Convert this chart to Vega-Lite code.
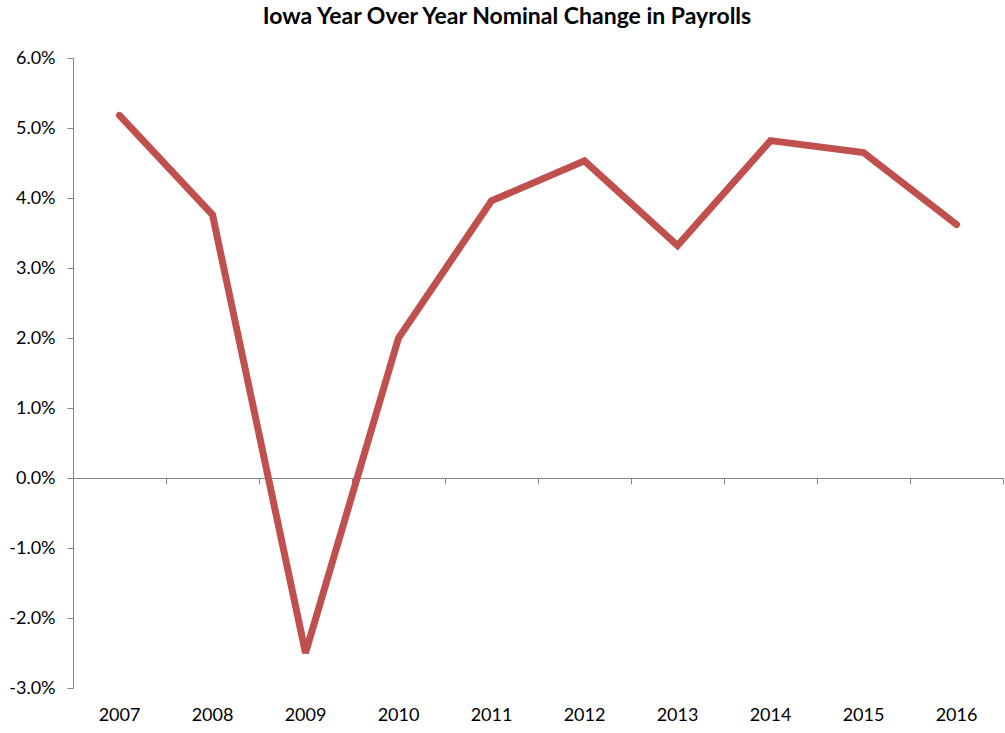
{
  "$schema": "https://vega.github.io/schema/vega-lite/v6.json",
  "autosize": "none",
  "width": 930,
  "height": 630,
  "padding": {"left": 73, "top": 58, "right": 2, "bottom": 45},
  "background": "white",
  "title": {
    "text": "Iowa Year Over Year Nominal Change in Payrolls",
    "font": "Lato",
    "fontSize": 23,
    "fontWeight": "bold",
    "color": "#000000",
    "anchor": "middle",
    "dx": -31,
    "offset": 20
  },
  "config": {
    "view": {"stroke": null},
    "axis": {"grid": false, "labelFont": "Lato", "labelFontSize": 18, "labelColor": "#000000", "domainColor": "#868686", "tickColor": "#868686", "title": null}
  },
  "data": {
    "values": [
      {"year": "2007", "change": 0.0518},
      {"year": "2008", "change": 0.0376},
      {"year": "2009", "change": -0.0250},
      {"year": "2010", "change": 0.0200},
      {"year": "2011", "change": 0.0396},
      {"year": "2012", "change": 0.0453},
      {"year": "2013", "change": 0.0332},
      {"year": "2014", "change": 0.0482},
      {"year": "2015", "change": 0.0465},
      {"year": "2016", "change": 0.0362}
    ]
  },
  "layer": [
    {
      "mark": {"type": "line", "color": "#C0504D", "strokeWidth": 7, "strokeCap": "round", "strokeJoin": "miter"},
      "encoding": {
        "x": {
          "field": "year", "type": "ordinal",
          "scale": {"type": "band", "paddingInner": 0, "paddingOuter": 0},
          "axis": {"orient": "bottom", "offset": -210, "labels": false, "ticks": true, "tickBand": "extent", "tickSize": 6, "domain": true}
        },
        "y": {
          "field": "change", "type": "quantitative",
          "scale": {"domain": [-0.03, 0.06], "nice": false, "zero": false},
          "axis": {"values": [-0.03, -0.02, -0.01, 0, 0.01, 0.02, 0.03, 0.04, 0.05, 0.06], "format": ".1%", "labelExpr": "replace(datum.label, '\u2212', '-')", "tickSize": 6, "labelPadding": 12}
        }
      }
    },
    {
      "mark": {"type": "point", "opacity": 0},
      "encoding": {
        "x": {
          "field": "year", "type": "ordinal",
          "axis": {"orient": "bottom", "labels": true, "ticks": false, "domain": false, "labelPadding": 18, "labelAngle": 0}
        },
        "y": {"field": "change", "type": "quantitative"}
      }
    }
  ],
  "resolve": {"axis": {"x": "independent"}}
}
